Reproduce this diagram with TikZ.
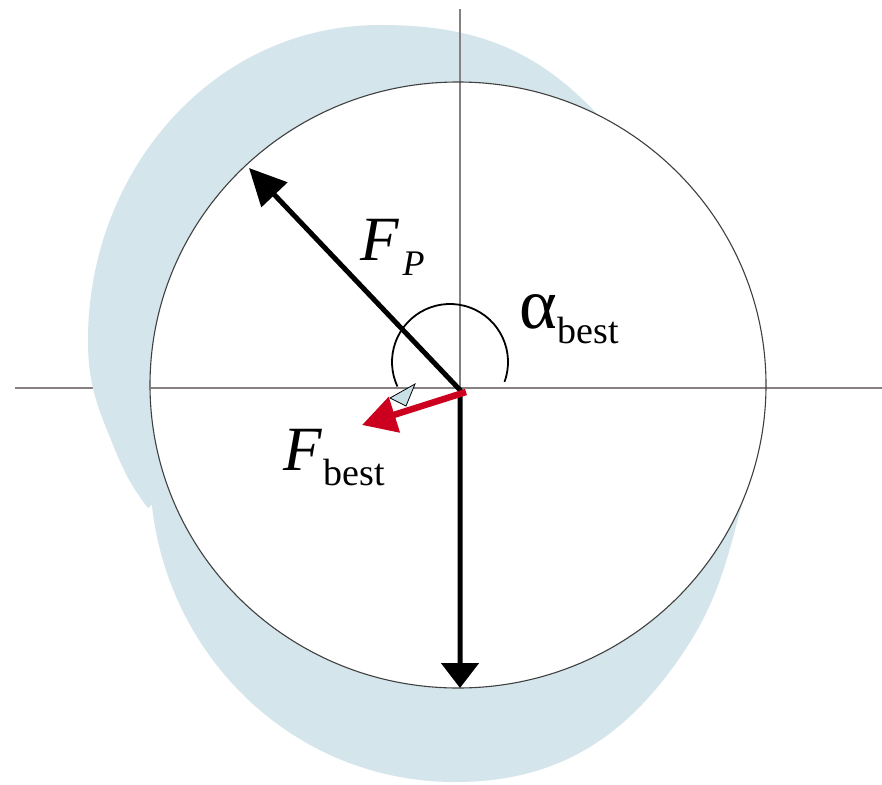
\documentclass[tikz,border=0pt]{standalone}
\usepackage{fontspec}
\setmainfont{Liberation Serif}
\usetikzlibrary{arrows.meta}
\definecolor{crescent}{RGB}{212,230,235}
\definecolor{axisgrey}{RGB}{135,128,128}
\definecolor{forcered}{RGB}{204,0,30}
\definecolor{headblue}{RGB}{200,224,230}
\begin{document}
\begin{tikzpicture}[x=1pt,y=-1pt,
  axisline/.style={draw=axisgrey, line width=1.8pt},
  circleline/.style={draw=black!75, line width=1.1pt},
  force/.style={draw=black, line width=5pt, line join=miter},
  redforce/.style={draw=forcered, fill=forcered, line width=6.5pt},
  angleline/.style={draw=black, line width=1.8pt},
  lbl/.style={anchor=base west, inner sep=0pt, font=\fontsize{63}{70}\selectfont}]
\useasboundingbox (0,0) rectangle (882,784);
\fill[white] (0,0) rectangle (882,784);
% coordinates
\coordinate (hl) at (15,388);
\coordinate (hr) at (882,388);
\coordinate (hc) at (151,388);
\coordinate (vt) at (460,9);
\coordinate (O) at (460,390);
\coordinate (C) at (458,385);
\coordinate (FPtip) at (249,168);
\coordinate (Dtip) at (460,688);
\coordinate (Rs) at (466,392);
\coordinate (Rtip) at (362,425);
\coordinate (A) at (450,362);
% horizontal axis (under the crescent)
\draw[axisline] (hl) -- (hr);
% upper lobe (to-path angles are screen angles, y up)
\fill[crescent] (598,115) to[out=133, in=0] (380,25) to[out=180, in=90] (88,340)
  to[out=-90, in=112] (107,430) to[out=-68, in=128] (148,508) -- cycle;
% lower lobe
\fill[crescent] (150,470) to[out=-90, in=180] (455,782) to[out=0, in=-124] (683,653)
  to[out=56, in=-109.5] (758,453) -- cycle;
% white disc
\fill[white] (C) ellipse[x radius=308, y radius=303];
% axes inside the circle
\draw[axisline] (hc) -- (hr);
\draw[axisline] (vt) -- (O);
% circle
\draw[circleline] (C) ellipse[x radius=308, y radius=303];
% angle arc
\draw[angleline] (A) ++(20:58) arc[start angle=20, end angle=-205, radius=58];
\filldraw[fill=headblue, draw=black, line width=0.8pt] (390,398) -- (415,384) -- (406,406) -- cycle;
% black forces
\draw[force, {Triangle[length=37pt,width=35pt]}-{Triangle[length=25pt,width=37pt]}] (FPtip) -- (O) -- (Dtip);
% red force
\draw[redforce, -{Triangle[length=34pt,width=36pt]}] (Rs) -- (Rtip);
% labels
\node[lbl] (FP) at (360,260) {\itshape F\kern4pt\raisebox{-15pt}{\fontsize{36}{40}\selectfont P}};
\node[lbl] (alpha) at (519,328) {{\fontsize{72}{76}\selectfont α}\kern1pt\raisebox{-15pt}{\fontsize{38}{40}\selectfont best}};
\node[lbl] (Fb) at (283,470) {\itshape F\kern2pt\upshape\raisebox{-15pt}{\fontsize{38}{40}\selectfont best}};
\end{tikzpicture}
\end{document}
